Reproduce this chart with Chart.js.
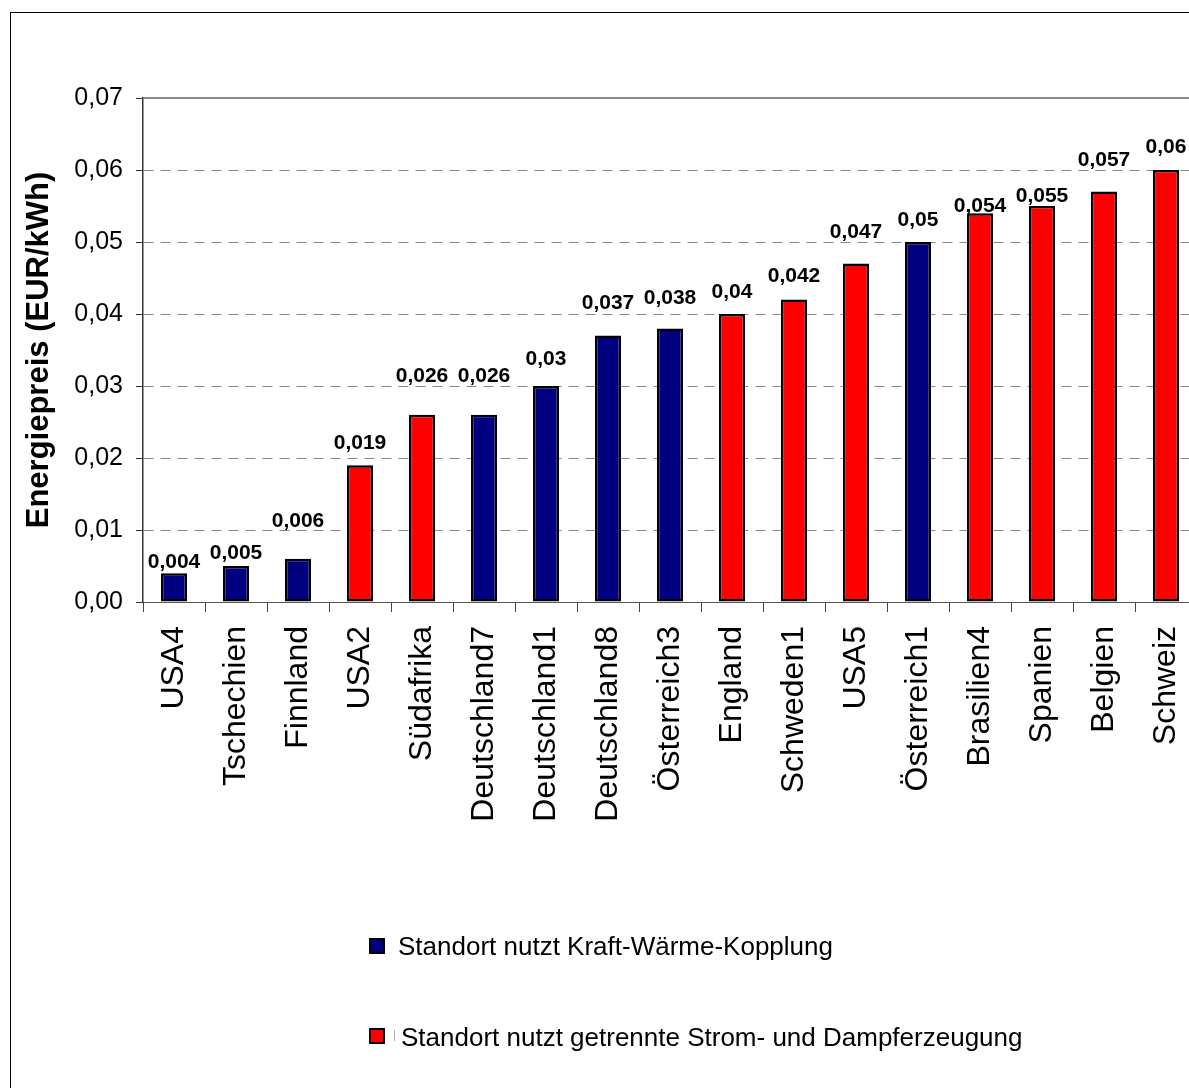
<!DOCTYPE html>
<html lang="de">
<head>
<meta charset="utf-8">
<title>Energiepreis je Standort</title>
<script src="https://cdn.jsdelivr.net/npm/chart.js@4.4.1/dist/chart.umd.min.js"></script>
<style>
  html, body { margin: 0; padding: 0; background: #fff; overflow: hidden; }
  body { width: 1189px; height: 1088px; position: relative; }
  #frame { position: absolute; left: 10px; top: 12px; width: 1400px; height: 1400px;
           border: 1px solid #000; box-sizing: border-box; pointer-events: none; }
  #wrap { position: absolute; left: 0; top: 0; width: 1220px; height: 1088px; }
  .lg { position: absolute; font-family: "Liberation Sans", Arial, sans-serif; font-size: 26px;
        line-height: 30px; color: #000; white-space: nowrap; }
  .sw { position: absolute; width: 16px; height: 16px; box-sizing: border-box; border: 2px solid #000; }
  .tick { position: absolute; width: 1px; background: #b0b0b0; }
</style>
</head>
<body>
<div id="wrap"><canvas id="c" width="1220" height="1088"></canvas></div>
<div id="frame"></div>
<div id="legend"></div>
<script>
// Standorte, sortiert nach Energiepreis
const standorte = ['USA4', 'Tschechien', 'Finnland', 'USA2', 'Südafrika', 'Deutschland7',
  'Deutschland1', 'Deutschland8', 'Österreich3', 'England', 'Schweden1', 'USA5',
  'Österreich1', 'Brasilien4', 'Spanien', 'Belgien', 'Schweiz'];

// Energiepreis in EUR/kWh
const energiepreis = [0.004, 0.005, 0.006, 0.019, 0.026, 0.026, 0.03, 0.037, 0.038,
  0.04, 0.042, 0.047, 0.05, 0.054, 0.055, 0.057, 0.06];

// Versorgungsart: K = Kraft-Wärme-Kopplung, G = getrennte Strom- und Dampferzeugung
const versorgung = ['K', 'K', 'K', 'G', 'G', 'K', 'K', 'K', 'K',
  'G', 'G', 'G', 'K', 'G', 'G', 'G', 'G'];

const serienNamen = ['Standort nutzt Kraft-Wärme-Kopplung',
  'Standort nutzt getrennte Strom- und Dampferzeugung'];

const yTickLabels = ['0,00', '0,01', '0,02', '0,03', '0,04', '0,05', '0,06', '0,07'];

// Abstand der Wertebeschriftung über der Säule (px)
const labelLift = [13, 15, 39, 24, 40, 40, 29, 34, 32, 24, 25, 33, 24, 9, 12, 33, 25];

const FONT = '"Liberation Sans", Arial, sans-serif';
const farben = { K: '#000080', G: '#FF0000' };

const kwkWerte = energiepreis.map((v, i) => versorgung[i] === 'K' ? v : null);
const getrenntWerte = energiepreis.map((v, i) => versorgung[i] === 'G' ? v : null);

const deFormat = v => String(v).replace('.', ',');

// Wertebeschriftungen über den Säulen
const valueLabels = {
  id: 'valueLabels',
  afterDatasetsDraw(chart) {
    const ctx = chart.ctx;
    ctx.save();
    ctx.font = 'bold 21px ' + FONT;
    ctx.fillStyle = '#000';
    ctx.textAlign = 'center';
    ctx.textBaseline = 'alphabetic';
    chart.data.datasets.forEach((ds, di) => {
      const meta = chart.getDatasetMeta(di);
      meta.data.forEach((bar, i) => {
        const v = ds.data[i];
        if (v === null) return;
        const cy = bar.y - labelLift[i];
        ctx.fillText(deFormat(v), bar.x, cy + 7.5);
      });
    });
    ctx.restore();
  }
};

// Obere Begrenzung der Zeichenfläche
const plotTop = {
  id: 'plotTop',
  beforeDatasetsDraw(chart) {
    const { ctx, chartArea } = chart;
    ctx.save();
    ctx.strokeStyle = '#8a8a8a';
    ctx.lineWidth = 2;
    ctx.beginPath();
    ctx.moveTo(chartArea.left, chartArea.top);
    ctx.lineTo(chartArea.right + 20, chartArea.top);
    ctx.stroke();
    ctx.restore();
  }
};

const barStyle = {
  borderColor: '#000000',
  borderWidth: 2.5,
  borderSkipped: false,
  inflateAmount: 0,
  grouped: false,
  categoryPercentage: 1,
  barPercentage: 0.42
};

new Chart(document.getElementById('c'), {
  type: 'bar',
  data: {
    labels: standorte,
    datasets: [
      Object.assign({ label: serienNamen[0], data: kwkWerte, backgroundColor: farben.K }, barStyle),
      Object.assign({ label: serienNamen[1], data: getrenntWerte, backgroundColor: farben.G }, barStyle)
    ]
  },
  options: {
    responsive: false,
    animation: false,
    devicePixelRatio: 1,
    layout: { padding: { top: 98, right: 23, left: 0, bottom: 0 } },
    plugins: {
      legend: { display: false },
      tooltip: { enabled: false }
    },
    scales: {
      x: {
        offset: true,
        grid: { drawOnChartArea: false, drawTicks: true, tickLength: 10, tickColor: '#444', tickWidth: 1 },
        border: { display: true, color: '#555', width: 1 },
        ticks: {
          autoSkip: false, maxRotation: 90, minRotation: 90, padding: 14,
          color: '#000', font: { family: FONT, size: 32 }
        },
        afterFit(scale) { scale.height = 486; }
      },
      y: {
        min: 0, max: 0.07,
        grid: { color: '#8a8a8a', lineWidth: 1, drawTicks: true, tickLength: 7, tickColor: '#333', tickWidth: 1 },
        border: { display: true, color: '#333', width: 1.5, dash: [10, 7] },
        ticks: {
          stepSize: 0.01, padding: 13, color: '#000',
          font: { family: FONT, size: 25 },
          callback: (v, i) => yTickLabels[i]
        },
        title: {
          display: true, text: 'Energiepreis (EUR/kWh)', color: '#000',
          font: { family: FONT, size: 31, weight: 'bold' },
          padding: { top: 21, bottom: 0 }
        },
        afterFit(scale) { scale.width = 143; }
      }
    }
  },
  plugins: [plotTop, valueLabels]
});

// Legende
const legend = document.getElementById('legend');
const legendRows = [
  { name: serienNamen[0], farbe: farben.K, top: 931, swTop: 938, textLeft: 398, mark: false },
  { name: serienNamen[1], farbe: farben.G, top: 1022, swTop: 1028, textLeft: 401, mark: true }
];
legendRows.forEach(r => {
  const sw = document.createElement('div');
  sw.className = 'sw';
  sw.style.left = '369px';
  sw.style.top = r.swTop + 'px';
  sw.style.background = r.farbe;
  legend.appendChild(sw);
  if (r.mark) {
    const t = document.createElement('div');
    t.className = 'tick';
    t.style.left = '394px';
    t.style.top = (r.swTop + 2) + 'px';
    t.style.height = '11px';
    legend.appendChild(t);
  }
  const tx = document.createElement('div');
  tx.className = 'lg';
  tx.style.left = r.textLeft + 'px';
  tx.style.top = r.top + 'px';
  tx.textContent = r.name;
  legend.appendChild(tx);
});
</script>
</body>
</html>
